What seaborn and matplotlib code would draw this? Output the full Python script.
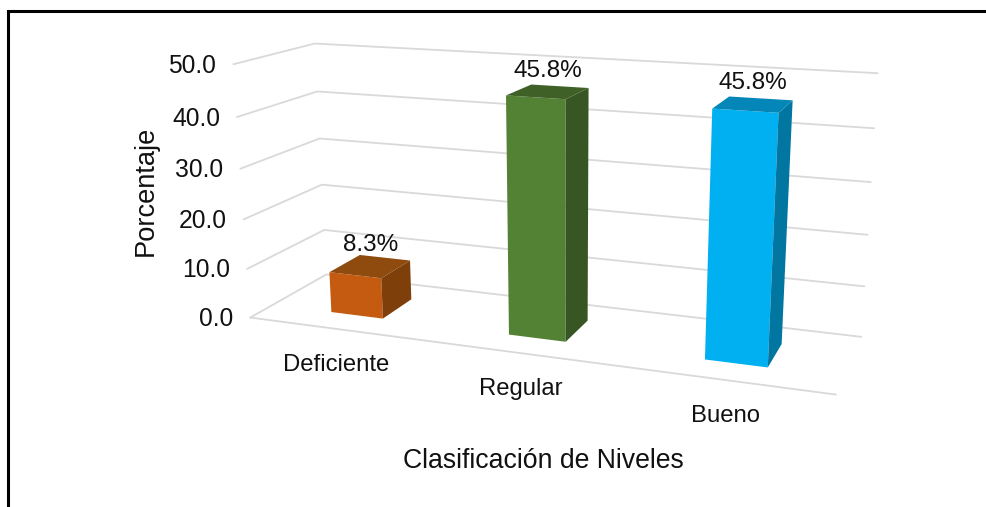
import numpy as np
import pandas as pd
import matplotlib
matplotlib.use('Agg')
import matplotlib.pyplot as plt
from matplotlib.transforms import Transform
import seaborn as sns

categories = ['Deficiente', 'Regular', 'Bueno']
valores = [8.3, 45.8, 45.8]
etiquetas = ['8.3%', '45.8%', '45.8%']
y_ticks = [0, 10, 20, 30, 40, 50]

col_front = ['#C55A11', '#548235', '#00B0F0']
col_side = ['#7F3F0B', '#375623', '#0076A1']
col_top = ['#8F4A0E', '#3F6128', '#0487B8']
GRID = '#D9D9D9'
TXT = '#111111'
D0, D1 = 0.28, 0.70

# camera for the fake 3d: (category pos, value, depth) -> pixels, fitted from the box corners
world = [(-.5, 0, 0), (2.5, 0, 0), (-.5, 0, 1), (2.5, 0, 1), (-.5, 50, 0), (-.5, 50, 1), (2.5, 50, 1),
         (-.5, 10, 0), (-.5, 10, 1), (2.5, 10, 1), (-.5, 30, 0), (-.5, 30, 1), (2.5, 30, 1)]
pixel = [(250, 318), (836, 394), (328, 274), (861, 337), (234, 64), (315, 44), (877, 73),
         (247, 269), (323, 230), (864, 287), (240, 169), (319, 138), (872, 182)]
A = []
for (x, y, z), (u, v) in zip(world, pixel):
    A.append([x, y, z, 1, 0, 0, 0, 0, -u*x, -u*y, -u*z, -u])
    A.append([0, 0, 0, 0, x, y, z, 1, -v*x, -v*y, -v*z, -v])
P = np.linalg.svd(np.array(A, dtype=float))[2][-1].reshape(3, 4)


def project(x, y, d):
    h = P @ np.array([x, y, d, 1.0])
    return h[0] / h[2], h[1] / h[2]


class Front(Transform):
    input_dims = 2
    output_dims = 2
    has_inverse = False

    def __init__(self, d):
        super().__init__()
        self.d = d

    def transform_non_affine(self, xy):
        return np.array([project(a, b, self.d) for a, b in np.asarray(xy)])


sns.set_theme(style='white')
plt.rcParams['font.family'] = ['Liberation Sans', 'DejaVu Sans']

df = pd.DataFrame({'nivel': categories, 'pct': valores})
fig = plt.figure(figsize=(9.86, 5.07), dpi=100)
ax = fig.add_axes([0, 0, 1, 1])
sns.barplot(data=df, x='nivel', y='pct', hue='nivel', palette=col_front, saturation=1,
            width=0.30, legend=False, ax=ax, zorder=3)
bars = list(ax.patches)
ax.set_xlim(0, 986)
ax.set_ylim(507, 0)
ax.set_axis_off()

# walls
for t in y_ticks:
    pts = [project(-.5, t, 0), project(-.5, t, 1), project(2.5, t, 1)]
    ax.plot(*zip(*pts), color=GRID, lw=1.3, zorder=1)
    px, py = pts[0]
    ax.text(px - 17, py + 1.5, f'{t:.1f}', ha='right', va='center', fontsize=17.7, color=TXT)
ax.plot(*zip(project(-.5, 0, 0), project(2.5, 0, 0)), color=GRID, lw=1.3, zorder=1)

# faces
for i, b in enumerate(bars):
    b.set_transform(Front(D0) + ax.transData)
    b.set_linewidth(0)
    x0, x1, h = b.get_x(), b.get_x() + b.get_width(), b.get_height()
    side = [project(x1, 0, D0), project(x1, 0, D1), project(x1, h, D1), project(x1, h, D0)]
    top = [project(x0, h, D0), project(x0, h, D1), project(x1, h, D1), project(x1, h, D0)]
    ax.fill(*zip(*side), color=col_side[i], lw=0, zorder=3)
    ax.fill(*zip(*top), color=col_top[i], lw=0, zorder=3)
    tx, ty = project((x0 + x1) / 2, h, (D0 + D1) / 2)
    ax.text(tx, ty - 21, etiquetas[i], ha='center', va='center', fontsize=17.5, color=TXT, zorder=5)
    lx, ly = project((x0 + x1) / 2, 0, 0)
    ax.text(lx, ly + 36, categories[i], ha='center', va='center', fontsize=17.2, color=TXT)

ax.text(543, 461, 'Clasificación de Niveles', ha='center', va='center', fontsize=19.2, color=TXT)
ax.text(146, 191, 'Porcentaje', ha='center', va='center', rotation=90, fontsize=19.6, color=TXT)

# page frame
ax.plot([8, 8, 986], [507, 11, 11], color='black', lw=2.2, zorder=6, solid_joinstyle='miter')

fig.savefig('out.png', dpi=100)
